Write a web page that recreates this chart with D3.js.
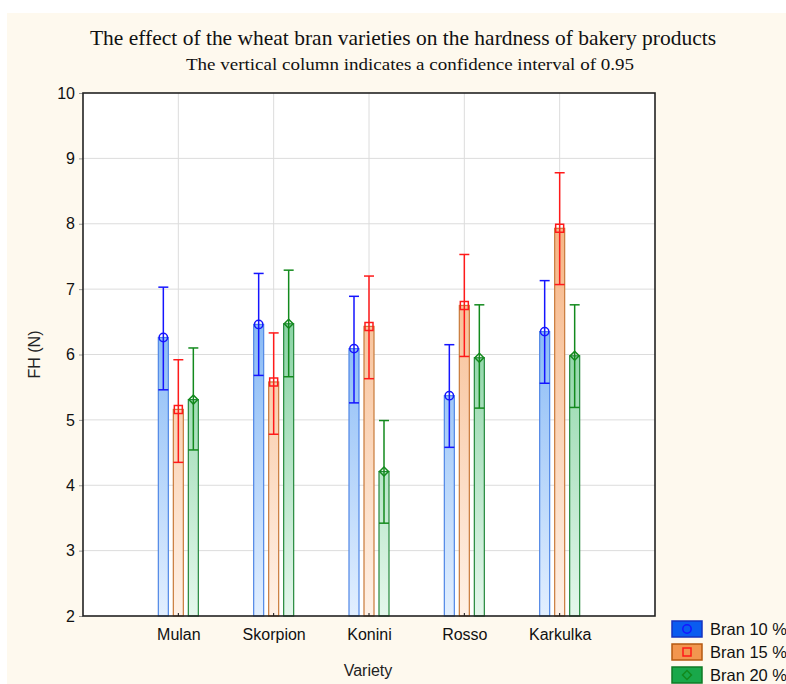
<!DOCTYPE html>
<html>
<head>
<meta charset="utf-8">
<script src="https://cdn.jsdelivr.net/npm/d3@7"></script>
<style>
  body { margin: 0; background: #ffffff; }
  svg { display: block; }
</style>
</head>
<body>
<svg width="786" height="684"></svg>
<script>
const varieties = ["Mulan", "Skorpion", "Konini", "Rosso", "Karkulka"];
const seriesNames = ["Bran 10 %", "Bran 15 %", "Bran 20 %"];

// means and confidence limits for each series, in variety order
const bran10Mean = [6.26, 6.46, 6.09, 5.37, 6.35];
const bran10Low  = [5.46, 5.68, 5.26, 4.58, 5.56];
const bran10High = [7.03, 7.24, 6.89, 6.15, 7.13];

const bran15Mean = [5.16, 5.58, 6.43, 6.75, 7.93];
const bran15Low  = [4.35, 4.78, 5.63, 5.97, 7.07];
const bran15High = [5.92, 6.33, 7.20, 7.53, 8.78];

const bran20Mean = [5.31, 6.47, 4.21, 5.95, 5.98];
const bran20Low  = [4.54, 5.66, 3.42, 5.18, 5.19];
const bran20High = [6.10, 7.29, 4.99, 6.76, 6.76];

const yTicks = [2, 3, 4, 5, 6, 7, 8, 9, 10];

const styles = [
    { top: "#6aa8f2", bottom: "#e2efff", stroke: "#4f86e6", err: "#1515ff", marker: "circle", swatch: "#0a5cf0", swatchStroke: "#1633c0" },
    { top: "#f6b585", bottom: "#fff1e6", stroke: "#c97a3a", err: "#ff1a1a", marker: "square", swatch: "#f2964f", swatchStroke: "#b55a12" },
    { top: "#6cc88c", bottom: "#e4f7ec", stroke: "#23883a", err: "#138a1d", marker: "diamond", swatch: "#19a84a", swatchStroke: "#0f7a26" }
];

const series = [
    { mean: bran10Mean, low: bran10Low, high: bran10High },
    { mean: bran15Mean, low: bran15Low, high: bran15High },
    { mean: bran20Mean, low: bran20Low, high: bran20High }
];

// marker path + rotation (diamond = square turned 45deg)
function markerPath(type) {
    if (type === "circle") return d3.symbol().type(d3.symbolCircle).size(55)();
    if (type === "square") return d3.symbol().type(d3.symbolSquare).size(64)();
    return d3.symbol().type(d3.symbolSquare).size(40)();
}
function markerRot(type) {
    return type === "diamond" ? " rotate(45)" : "";
}

const svg = d3.select("svg");

svg.append("rect")
    .attr("x", 7).attr("y", 13)
    .attr("width", 779).attr("height", 671)
    .attr("fill", "#fef9ee");

const area = { left: 83, right: 655, top: 93, bottom: 616 };

const scX = d3.scaleLinear()
    .domain([0, varieties.length + 1])
    .range([area.left, area.right]);

const scY = d3.scaleLinear()
    .domain([2, 10])
    .range([area.bottom, area.top]);

// plot background
svg.append("rect")
    .attr("x", area.left).attr("y", area.top)
    .attr("width", area.right - area.left).attr("height", area.bottom - area.top)
    .attr("fill", "#ffffff");

// gradients
const defs = svg.append("defs");
styles.forEach((s, i) => {
    const g = defs.append("linearGradient")
        .attr("id", "grad" + i)
        .attr("gradientUnits", "userSpaceOnUse")
        .attr("x1", 0).attr("x2", 0)
        .attr("y1", scY(8)).attr("y2", area.bottom);
    g.append("stop").attr("offset", "0%").attr("stop-color", s.top);
    g.append("stop").attr("offset", "100%").attr("stop-color", s.bottom);
});

// grid
svg.append("g")
    .selectAll("line")
    .data(yTicks.slice(1, -1))
    .enter()
    .append("line")
    .attr("x1", area.left).attr("x2", area.right)
    .attr("y1", d => scY(d)).attr("y2", d => scY(d))
    .attr("stroke", "#dcdcdc").attr("stroke-width", 1);

svg.append("g")
    .selectAll("line")
    .data(varieties)
    .enter()
    .append("line")
    .attr("x1", (d, i) => scX(i + 1)).attr("x2", (d, i) => scX(i + 1))
    .attr("y1", area.top).attr("y2", area.bottom)
    .attr("stroke", "#dcdcdc").attr("stroke-width", 1);

const barW = 10;
const offset = 15;

series.forEach((s, k) => {
    const st = styles[k];
    const dx = (k - 1) * offset;
    const data = varieties.map((v, i) => ({ i: i, mean: s.mean[i], low: s.low[i], high: s.high[i] }));
    const g = svg.append("g");

    g.selectAll("rect")
        .data(data)
        .enter()
        .append("rect")
        .attr("x", d => scX(d.i + 1) + dx - barW / 2)
        .attr("y", d => scY(d.mean))
        .attr("width", barW)
        .attr("height", d => area.bottom - scY(d.mean))
        .attr("fill", "url(#grad" + k + ")")
        .attr("stroke", st.stroke)
        .attr("stroke-width", 1.2);

    // whiskers
    g.selectAll(".whisk")
        .data(data)
        .enter()
        .append("line")
        .attr("x1", d => scX(d.i + 1) + dx).attr("x2", d => scX(d.i + 1) + dx)
        .attr("y1", d => scY(d.low)).attr("y2", d => scY(d.high))
        .attr("stroke", st.err).attr("stroke-width", 1.5);

    ["low", "high"].forEach(key => {
        g.selectAll(".cap-" + key)
            .data(data)
            .enter()
            .append("line")
            .attr("x1", d => scX(d.i + 1) + dx - 5).attr("x2", d => scX(d.i + 1) + dx + 5)
            .attr("y1", d => scY(d[key])).attr("y2", d => scY(d[key]))
            .attr("stroke", st.err).attr("stroke-width", 1.5);
    });

    // markers
    g.selectAll("path")
        .data(data)
        .enter()
        .append("path")
        .attr("d", markerPath(st.marker))
        .attr("transform", d => `translate(${scX(d.i + 1) + dx},${scY(d.mean)})` + markerRot(st.marker))
        .attr("fill", "none")
        .attr("stroke", st.err)
        .attr("stroke-width", 1.5);
});

// axes
const axisY = d3.axisLeft(scY).tickValues(yTicks).tickSize(4).tickSizeOuter(0);
const gy = svg.append("g")
    .attr("transform", `translate(${area.left},0)`)
    .call(axisY);
gy.select(".domain").remove();
gy.selectAll("line").attr("stroke", "#999");
gy.selectAll("text")
    .attr("x", -8)
    .style("font-family", "Liberation Sans, Arial, sans-serif")
    .style("font-size", "16px")
    .attr("fill", "#111");

const axisX = d3.axisBottom(scX)
    .tickValues(d3.range(1, varieties.length + 1))
    .tickFormat(d => varieties[d - 1])
    .tickSize(0);
const gx = svg.append("g")
    .attr("transform", `translate(0,${area.bottom})`)
    .call(axisX);
gx.select(".domain").remove();
gx.selectAll("text")
    .attr("y", 13)
    .attr("dy", "0.71em")
    .style("font-family", "Liberation Sans, Arial, sans-serif")
    .style("font-size", "16px")
    .attr("fill", "#111");

// small ticks at category centers
svg.append("g")
    .selectAll("line")
    .data(varieties)
    .enter()
    .append("line")
    .attr("x1", (d, i) => scX(i + 1)).attr("x2", (d, i) => scX(i + 1))
    .attr("y1", area.bottom).attr("y2", area.bottom - 3)
    .attr("stroke", "#111").attr("stroke-width", 1);

// frame
svg.append("rect")
    .attr("x", area.left).attr("y", area.top)
    .attr("width", area.right - area.left).attr("height", area.bottom - area.top)
    .attr("fill", "none")
    .attr("stroke", "#222")
    .attr("stroke-width", 1.6);

// titles
svg.append("text")
    .attr("x", 90).attr("y", 45)
    .attr("textLength", 626)
    .attr("lengthAdjust", "spacingAndGlyphs")
    .style("font-family", "Liberation Serif, Times New Roman, serif")
    .style("font-size", "21px")
    .attr("fill", "#111")
    .text("The effect of the wheat bran varieties on the hardness of bakery products");

svg.append("text")
    .attr("x", 186).attr("y", 70)
    .attr("textLength", 448)
    .attr("lengthAdjust", "spacingAndGlyphs")
    .style("font-family", "Liberation Serif, Times New Roman, serif")
    .style("font-size", "17px")
    .attr("fill", "#111")
    .text("The vertical column indicates a confidence interval of 0.95");

svg.append("text")
    .attr("x", 368).attr("y", 676)
    .attr("text-anchor", "middle")
    .style("font-family", "Liberation Sans, Arial, sans-serif")
    .style("font-size", "16px")
    .attr("fill", "#222")
    .text("Variety");

svg.append("text")
    .attr("transform", `translate(40,${(area.top + area.bottom) / 2}) rotate(-90)`)
    .attr("text-anchor", "middle")
    .style("font-family", "Liberation Sans, Arial, sans-serif")
    .style("font-size", "16px")
    .attr("fill", "#222")
    .text("FH (N)");

// legend
const legend = svg.append("g");
seriesNames.forEach((name, k) => {
    const st = styles[k];
    const y = 621 + k * 23;
    legend.append("rect")
        .attr("x", 672).attr("y", y)
        .attr("width", 30).attr("height", 16)
        .attr("fill", st.swatch)
        .attr("stroke", st.swatchStroke)
        .attr("stroke-width", 1.5);
    legend.append("path")
        .attr("d", markerPath(st.marker))
        .attr("transform", `translate(687,${y + 8})` + markerRot(st.marker))
        .attr("fill", "none")
        .attr("stroke", st.err)
        .attr("stroke-width", 1.5);
    legend.append("text")
        .attr("x", 710).attr("y", y + 14)
        .style("font-family", "Liberation Sans, Arial, sans-serif")
        .style("font-size", "16.5px")
        .attr("fill", "#111")
        .text(name);
});
</script>
</body>
</html>
